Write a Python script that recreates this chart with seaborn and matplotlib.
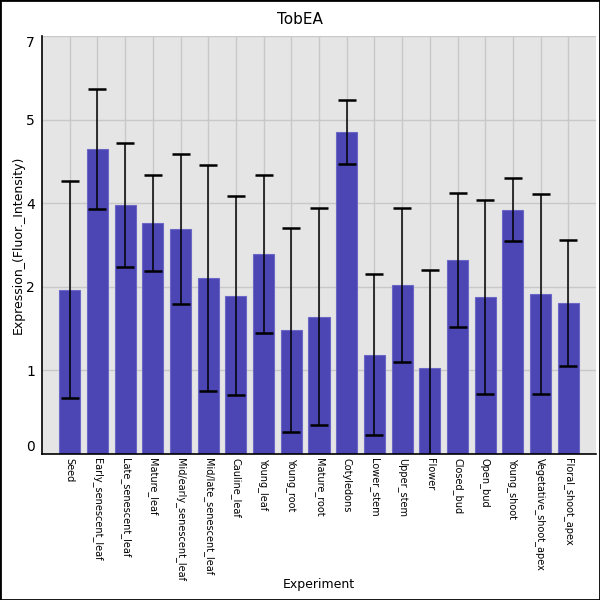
import matplotlib
matplotlib.use("Agg")
import matplotlib.pyplot as plt
import seaborn as sns
import pandas as pd
import numpy as np
from matplotlib.patches import Rectangle

categories = ["Seed", "Early_senescent_leaf", "Late_senescent_leaf", "Mature_leaf",
              "Mid/early_senescent_leaf", "Mid/late_senescent_leaf", "Cauline_leaf",
              "Young_leaf", "Young_root", "Mature_root", "Cotyledons", "Lower_stem",
              "Upper_stem", "Flower", "Closed_bud", "Open_bud", "Young_shoot",
              "Vegetative_shoot_apex", "Floral_shoot_apex"]
values = [2.75, 5.11, 4.17, 3.87, 3.77, 2.95, 2.65, 3.35, 2.08, 2.30, 5.39, 1.66,
          2.83, 1.44, 3.25, 2.63, 4.09, 2.68, 2.53]
errors = [1.82, 1.01, 1.04, 0.81, 1.25, 1.89, 1.67, 1.33, 1.71, 1.82, 0.53, 1.35,
          1.29, 1.64, 1.12, 1.63, 0.53, 1.67, 1.05]
ytick_values = [0, 1.4, 2.8, 4.2, 5.6, 7.0]

df = pd.DataFrame({"Experiment": categories, "Expression": values, "err": errors})

sns.set_theme(style="white")
plt.rcParams['font.family'] = ['DejaVu Sans']
plt.rcParams['text.color'] = 'black'
plt.rcParams['axes.labelcolor'] = 'black'
plt.rcParams['xtick.color'] = 'black'
plt.rcParams['ytick.color'] = 'black'

fig = plt.figure(figsize=(6, 6), dpi=100)
ax = fig.add_axes([42/600, 1-454/600, 554/600, 418/600])
ax.set_facecolor("#e5e5e5")

sns.barplot(data=df, x="Experiment", y="Expression", color="#4b46b4", saturation=1,
            width=0.76, errorbar=None, edgecolor="#6b67c6", linewidth=0.8, ax=ax, zorder=2)
ax.errorbar(np.arange(len(categories)), df["Expression"], yerr=df["err"], fmt="none",
            ecolor="black", elinewidth=1.1, capsize=6.5, capthick=1.8, zorder=3)

ax.set_xlim(-1, len(categories))
ax.set_ylim(0, 7.0)
ax.set_yticks(ytick_values)
ax.set_yticklabels([str(int(v)) for v in ytick_values], fontsize=10)
labs = ax.get_yticklabels()
labs[0].set_va("bottom")
labs[-1].set_va("top")
ax.tick_params(axis="y", length=0, pad=5)
ax.tick_params(axis="x", length=0, pad=3)
ax.set_xticks(np.arange(len(categories)))
ax.set_xticklabels(categories, rotation=270, fontsize=7, ha="center", va="top")

ax.grid(True, color="#c8c8c8", linewidth=1.0, zorder=0)
ax.set_axisbelow(True)
for s in ["top", "right"]:
    ax.spines[s].set_visible(False)
for s in ["left", "bottom"]:
    ax.spines[s].set_color("black")
    ax.spines[s].set_linewidth(1.2)

ax.set_xlabel("Experiment", fontsize=9)
ax.set_ylabel("Expression_(Fluor._Intensity)", fontsize=9)
ax.xaxis.set_label_coords(0.5, -(578-454)/418)
ax.yaxis.set_label_coords(-(42-18)/554, 0.5)
ax.yaxis.label.set_va("center")
fig.text(0.5, 1-20/600, "TobEA", ha="center", va="center", fontsize=11, color="black")

fig.patches.append(Rectangle((0, 0), 1, 1, transform=fig.transFigure, fill=False,
                             edgecolor="black", linewidth=2))

fig.savefig("out.png", dpi=100)
